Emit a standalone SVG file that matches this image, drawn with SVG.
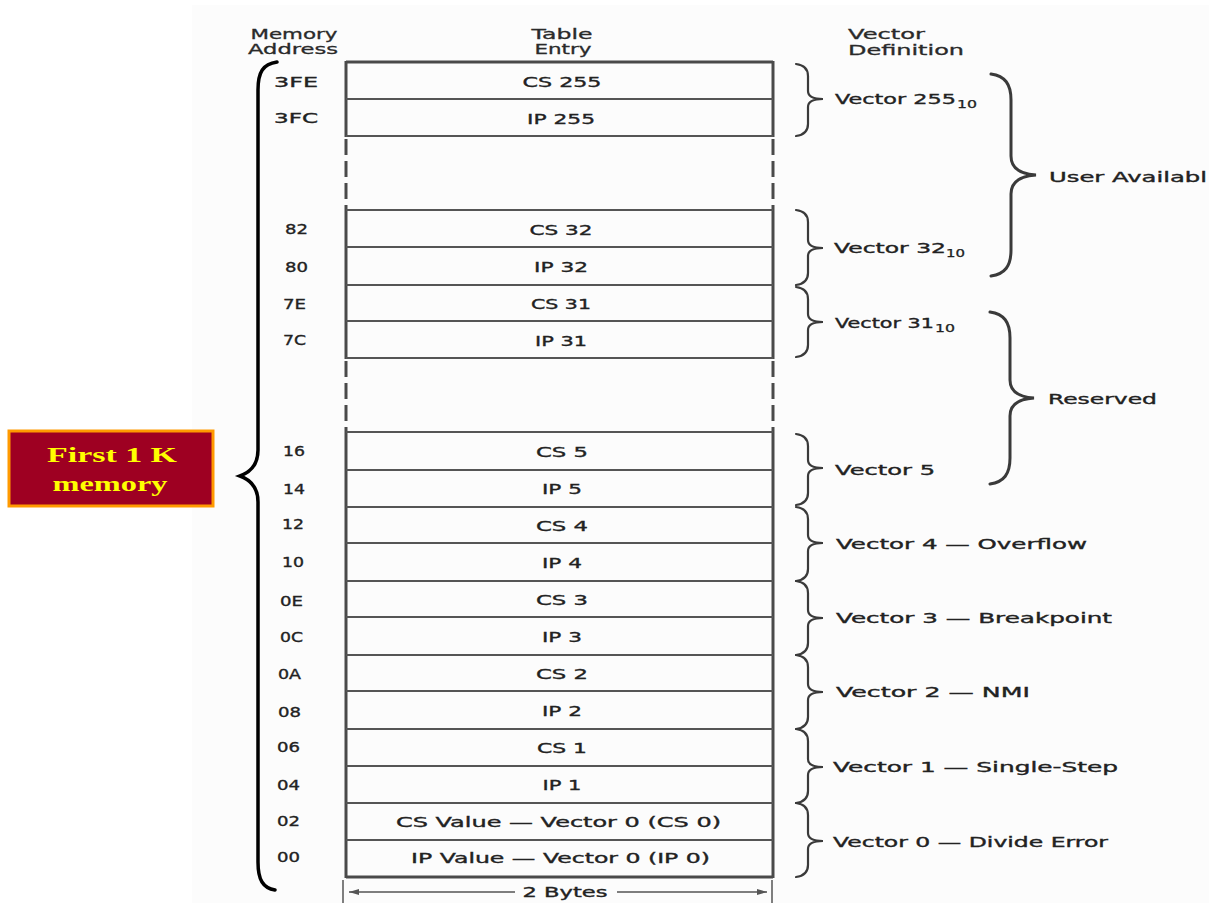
<svg xmlns="http://www.w3.org/2000/svg" width="1209" height="903" viewBox="0 0 1209 903">
<defs>
<style>
.t{font-family:"DejaVu Sans","Liberation Sans",sans-serif;font-size:14px;fill:#222;stroke:#222;stroke-width:0.35}
.h{font-family:"DejaVu Sans","Liberation Sans",sans-serif;font-size:14px;fill:#2a2a2a;stroke:#2a2a2a;stroke-width:0.3}
.c{text-anchor:middle}
.sub{font-family:"DejaVu Sans","Liberation Sans",sans-serif;font-size:10px;fill:#222;stroke:#222;stroke-width:0.25}
.row{stroke:#555;stroke-width:2;fill:none}
.edge{stroke:#4a4a4a;stroke-width:3;fill:none}
.dash{stroke:#4a4a4a;stroke-width:3;fill:none;stroke-dasharray:16 6}
.br{stroke:#3a3a3a;stroke-width:2.2;fill:none;stroke-linecap:round}
.bbr{stroke:#3a3a3a;stroke-width:3;fill:none;stroke-linecap:round}
.lbl{font-family:"Liberation Serif",serif;font-weight:bold;font-size:22px;fill:#ffff00;text-anchor:middle}
</style>
<marker id="ah" viewBox="0 0 10 6" refX="10" refY="3" markerWidth="10" markerHeight="6" orient="auto-start-reverse" markerUnits="userSpaceOnUse">
<path d="M0,0 L10,3 L0,6 Z" fill="#555"/>
</marker>
</defs>
<rect x="0" y="0" width="1209" height="903" fill="#ffffff"/>
<rect x="192" y="5" width="1017" height="898" fill="#fcfcfc"/>

<g id="headers">
<text class="h c" x="294" y="39" textLength="87" lengthAdjust="spacingAndGlyphs">Memory</text>
<text class="h c" x="293" y="54" textLength="90" lengthAdjust="spacingAndGlyphs">Address</text>
<text class="h c" x="562" y="39" textLength="61" lengthAdjust="spacingAndGlyphs">Table</text>
<text class="h c" x="563" y="54" textLength="57" lengthAdjust="spacingAndGlyphs">Entry</text>
<text class="h" x="848" y="39" textLength="77" lengthAdjust="spacingAndGlyphs">Vector</text>
<text class="h" x="848" y="55" textLength="116" lengthAdjust="spacingAndGlyphs">Definition</text>
</g>

<g id="table">
<path class="edge" d="M346,62 H773 M346,877 H773"/>
<path class="edge" d="M346,61 V137 M773,61 V137 M346,209 V359 M773,209 V359 M346,431 V878 M773,431 V878"/>
<path class="dash" d="M346,139 V209 M773,139 V209 M346,361 V431 M773,361 V431"/>
<path class="row" d="M346,99 H773 M346,136 H773 M346,210 H773 M346,247 H773 M346,285 H773 M346,321 H773 M346,358 H773 M346,432 H773 M346,470 H773 M346,507 H773 M346,543 H773 M346,581 H773 M346,617 H773 M346,655 H773 M346,691 H773 M346,729 H773 M346,766 H773 M346,803 H773 M346,840 H773"/>
</g>

<g id="entries">
<text class="t c" x="562" y="87" textLength="79" lengthAdjust="spacingAndGlyphs">CS 255</text>
<text class="t c" x="561" y="124" textLength="68" lengthAdjust="spacingAndGlyphs">IP 255</text>
<text class="t c" x="561" y="235" textLength="63" lengthAdjust="spacingAndGlyphs">CS 32</text>
<text class="t c" x="561" y="272" textLength="54" lengthAdjust="spacingAndGlyphs">IP 32</text>
<text class="t c" x="561" y="309" textLength="60" lengthAdjust="spacingAndGlyphs">CS 31</text>
<text class="t c" x="561" y="346" textLength="52" lengthAdjust="spacingAndGlyphs">IP 31</text>
<text class="t c" x="562" y="457" textLength="52" lengthAdjust="spacingAndGlyphs">CS 5</text>
<text class="t c" x="562" y="494" textLength="40" lengthAdjust="spacingAndGlyphs">IP 5</text>
<text class="t c" x="562" y="531" textLength="52" lengthAdjust="spacingAndGlyphs">CS 4</text>
<text class="t c" x="562" y="568" textLength="40" lengthAdjust="spacingAndGlyphs">IP 4</text>
<text class="t c" x="562" y="605" textLength="52" lengthAdjust="spacingAndGlyphs">CS 3</text>
<text class="t c" x="562" y="642" textLength="40" lengthAdjust="spacingAndGlyphs">IP 3</text>
<text class="t c" x="562" y="679" textLength="52" lengthAdjust="spacingAndGlyphs">CS 2</text>
<text class="t c" x="562" y="716" textLength="40" lengthAdjust="spacingAndGlyphs">IP 2</text>
<text class="t c" x="562" y="753" textLength="50" lengthAdjust="spacingAndGlyphs">CS 1</text>
<text class="t c" x="562" y="790" textLength="39" lengthAdjust="spacingAndGlyphs">IP 1</text>
<text class="t" x="396" y="827" textLength="325" lengthAdjust="spacingAndGlyphs">CS Value — Vector 0 (CS 0)</text>
<text class="t" x="411" y="863" textLength="299" lengthAdjust="spacingAndGlyphs">IP Value — Vector 0 (IP 0)</text>
</g>

<g id="addresses">
<text class="t" x="274" y="87" textLength="44" lengthAdjust="spacingAndGlyphs">3FE</text>
<text class="t" x="274" y="123" textLength="44" lengthAdjust="spacingAndGlyphs">3FC</text>
<text class="t" x="285" y="234" textLength="23" lengthAdjust="spacingAndGlyphs">82</text>
<text class="t" x="285" y="272" textLength="23" lengthAdjust="spacingAndGlyphs">80</text>
<text class="t" x="283" y="309" textLength="23" lengthAdjust="spacingAndGlyphs">7E</text>
<text class="t" x="283" y="345" textLength="23" lengthAdjust="spacingAndGlyphs">7C</text>
<text class="t" x="283" y="456" textLength="22" lengthAdjust="spacingAndGlyphs">16</text>
<text class="t" x="283" y="494" textLength="22" lengthAdjust="spacingAndGlyphs">14</text>
<text class="t" x="282" y="529" textLength="22" lengthAdjust="spacingAndGlyphs">12</text>
<text class="t" x="282" y="567" textLength="22" lengthAdjust="spacingAndGlyphs">10</text>
<text class="t" x="280" y="606" textLength="23" lengthAdjust="spacingAndGlyphs">0E</text>
<text class="t" x="280" y="642" textLength="23" lengthAdjust="spacingAndGlyphs">0C</text>
<text class="t" x="278" y="679" textLength="23" lengthAdjust="spacingAndGlyphs">0A</text>
<text class="t" x="278" y="717" textLength="23" lengthAdjust="spacingAndGlyphs">08</text>
<text class="t" x="277" y="752" textLength="23" lengthAdjust="spacingAndGlyphs">06</text>
<text class="t" x="277" y="790" textLength="23" lengthAdjust="spacingAndGlyphs">04</text>
<text class="t" x="277" y="826" textLength="23" lengthAdjust="spacingAndGlyphs">02</text>
<text class="t" x="277" y="862" textLength="23" lengthAdjust="spacingAndGlyphs">00</text>
</g>

<g id="connectors">
<path class="br" d="M796,64 C804,65 808,69 808,76 L808,91 C808,96 813,99 823,99 C813,99 808,102 808,107 L808,124 C808,131 804,135 796,136"/>
<path class="br" d="M796,210 C804,211 808,215 808,222 L808,240 C808,245 813,248 823,248 C813,248 808,251 808,256 L808,273 C808,280 804,284 796,285"/>
<path class="br" d="M796,287 C804,288 808,292 808,299 L808,314 C808,319 813,322 823,322 C813,322 808,325 808,330 L808,345 C808,352 804,356 796,357"/>
<path class="br" d="M796,434 C804,435 808,439 808,446 L808,460 C808,465 813,468 823,468 C813,468 808,471 808,476 L808,493 C808,500 804,504 796,505"/>
<path class="br" d="M796,507 C804,508 808,512 808,519 L808,535 C808,540 813,543 823,543 C813,543 808,546 808,551 L808,569 C808,576 804,580 796,581"/>
<path class="br" d="M796,581 C804,582 808,586 808,593 L808,610 C808,615 813,618 823,618 C813,618 808,621 808,626 L808,643 C808,650 804,654 796,655"/>
<path class="br" d="M796,655 C804,656 808,660 808,667 L808,684 C808,689 813,692 823,692 C813,692 808,695 808,700 L808,717 C808,724 804,728 796,729"/>
<path class="br" d="M796,729 C804,730 808,734 808,741 L808,759 C808,764 813,767 823,767 C813,767 808,770 808,775 L808,791 C808,798 804,802 796,803"/>
<path class="br" d="M796,803 C804,804 808,808 808,815 L808,833 C808,838 813,841 823,841 C813,841 808,844 808,849 L808,865 C808,872 804,876 796,877"/>
<path class="bbr" d="M991,74 C1005,76 1011,84 1011,100 L1011,156 C1011,168 1020,174 1036,175 C1020,176 1011,182 1011,194 L1011,250 C1011,266 1005,274 991,276"/>
<path class="bbr" d="M990,312 C1004,314 1010,322 1010,338 L1010,380 C1010,392 1019,397 1034,398 C1019,399 1010,404 1010,416 L1010,458 C1010,474 1004,482 990,484"/>
<path d="M277,62 C263,64 258,72 258,90 L258,450 C258,464 251,472 240,476 C251,480 258,488 258,502 L258,862 C258,880 263,888 275,890" stroke="#000" stroke-width="3.5" fill="none" stroke-linecap="round"/>
<path d="M343,880 V903 M772,880 V903" stroke="#555" stroke-width="1.5"/>
<path d="M515,892 H349" stroke="#555" stroke-width="1.5" marker-end="url(#ah)"/>
<path d="M617,892 H767" stroke="#555" stroke-width="1.5" marker-end="url(#ah)"/>
</g>

<g id="vector-labels">
<text class="t" x="835" y="104" textLength="121" lengthAdjust="spacingAndGlyphs">Vector 255</text>
<text class="sub" x="957" y="108" textLength="20" lengthAdjust="spacingAndGlyphs">10</text>
<text class="t" x="834" y="253" textLength="112" lengthAdjust="spacingAndGlyphs">Vector 32</text>
<text class="sub" x="946" y="257" textLength="19" lengthAdjust="spacingAndGlyphs">10</text>
<text class="t" x="835" y="328" textLength="99" lengthAdjust="spacingAndGlyphs">Vector 31</text>
<text class="sub" x="935" y="332" textLength="20" lengthAdjust="spacingAndGlyphs">10</text>
<text class="t" x="835" y="475" textLength="100" lengthAdjust="spacingAndGlyphs">Vector 5</text>
<text class="t" x="836" y="549" textLength="251" lengthAdjust="spacingAndGlyphs">Vector 4 — Overflow</text>
<text class="t" x="836" y="623" textLength="276" lengthAdjust="spacingAndGlyphs">Vector 3 — Breakpoint</text>
<text class="t" x="836" y="697" textLength="194" lengthAdjust="spacingAndGlyphs">Vector 2 — NMI</text>
<text class="t" x="833" y="772" textLength="285" lengthAdjust="spacingAndGlyphs">Vector 1 — Single-Step</text>
<text class="t" x="833" y="847" textLength="275" lengthAdjust="spacingAndGlyphs">Vector 0 — Divide Error</text>
<text class="t" x="1049" y="182" textLength="158" lengthAdjust="spacingAndGlyphs">User Availabl</text>
<text class="t" x="1048" y="404" textLength="109" lengthAdjust="spacingAndGlyphs">Reserved</text>
</g>

<g id="bytes-label">
<text class="t c" x="565" y="897" textLength="85" lengthAdjust="spacingAndGlyphs">2 Bytes</text>
</g>

<g id="first-1k">
<rect x="9" y="431" width="204" height="75" fill="#9e0022" stroke="#ff9a00" stroke-width="3"/>
<text class="lbl" x="112" y="462" textLength="130" lengthAdjust="spacingAndGlyphs">First 1 K</text>
<text class="lbl" x="110" y="491" textLength="115" lengthAdjust="spacingAndGlyphs">memory</text>
</g>
</svg>
